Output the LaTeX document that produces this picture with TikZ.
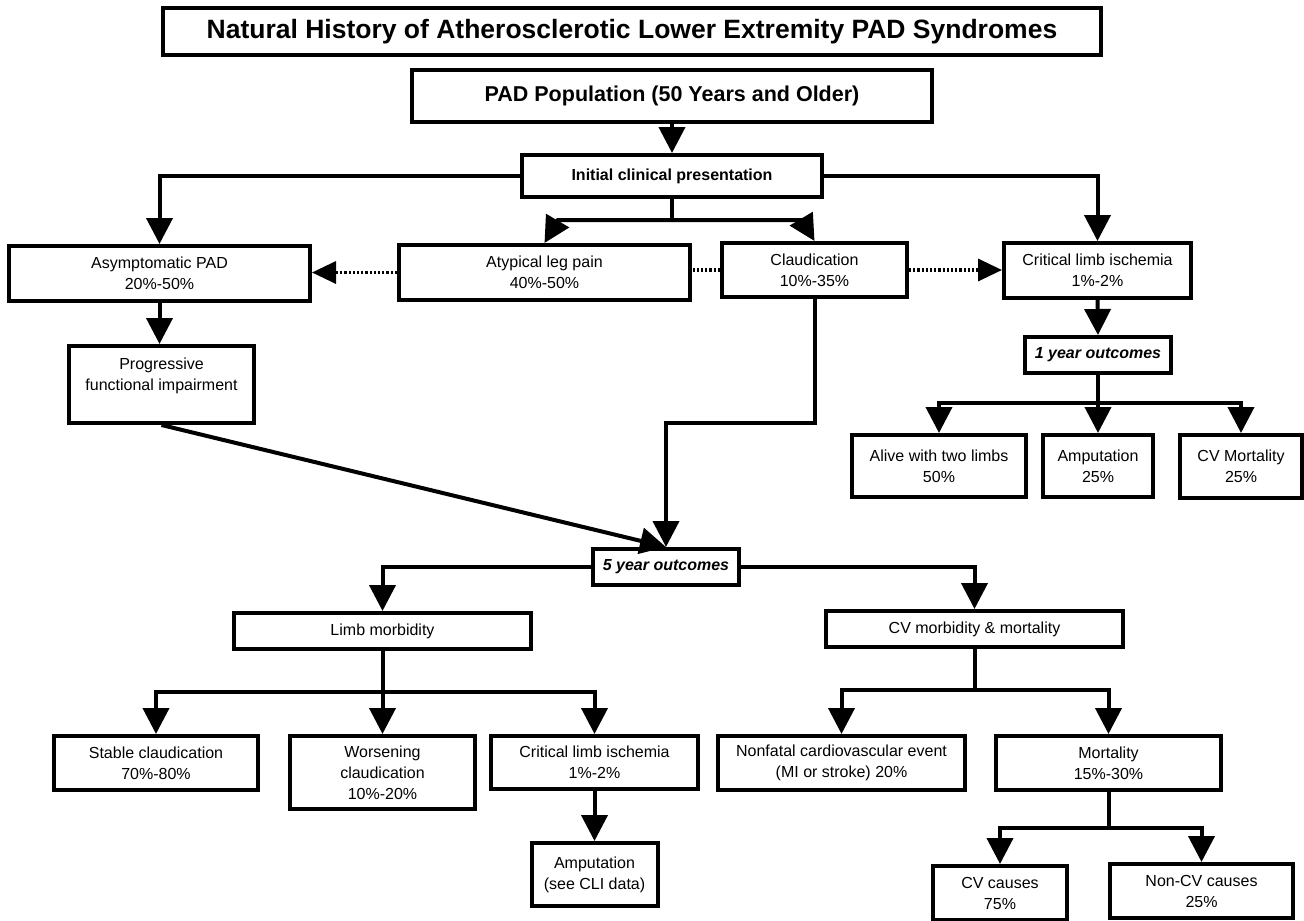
\documentclass[tikz,border=0pt]{standalone}
\usepackage{fontspec}
\setmainfont{Liberation Sans}
\usetikzlibrary{arrows.meta}
\begin{document}
\begin{tikzpicture}[x=1pt,y=-1pt,
  box/.style={draw, rectangle, line width=4pt, inner sep=2pt, align=center, font=\fontsize{16}{21}\selectfont},
  conn/.style={line width=4pt},
  arr/.style={conn, -{Triangle[length=26pt,width=26pt]}},
  dotline/.style={line width=3.5pt, dash pattern=on 2.2pt off 2pt},
  darr/.style={dotline, -{Triangle[length=24pt,width=22pt]}},
  bigbold/.style={font=\fontsize{26.5}{30}\selectfont\bfseries},
  midbold/.style={font=\fontsize{21.5}{26}\selectfont\bfseries},
  smallbold/.style={font=\fontsize{16}{20}\selectfont\bfseries},
  outcome/.style={font=\fontsize{16}{20}\selectfont\bfseries\itshape}]
\useasboundingbox[fill=white] (0,0) rectangle (1304,921);

% boxes
\node[box, bigbold, minimum width=938pt, minimum height=47pt] (title) at (632,31.5) {Natural History of Atherosclerotic Lower Extremity PAD Syndromes};
\node[box, midbold, minimum width=520pt, minimum height=52pt] (pop) at (672,96) {PAD Population (50 Years and Older)};
\node[box, smallbold, minimum width=300pt, minimum height=42pt] (init) at (672,176) {Initial clinical presentation};

\node[box, minimum width=301pt, minimum height=55pt] (asym) at (159.5,273.5) {Asymptomatic PAD\\20\%-50\%};
\node[box, minimum width=291pt, minimum height=55pt] (atyp) at (544.5,272.5) {Atypical leg pain\\40\%-50\%};
\node[box, minimum width=185pt, minimum height=54pt] (claud) at (814.5,270) {Claudication\\10\%-35\%};
\node[box, minimum width=187pt, minimum height=55pt] (cli1) at (1097.5,270.5) {Critical limb ischemia\\1\%-2\%};

\node[box, minimum width=185pt, minimum height=77pt] (prog) at (161.5,384.5) {Progressive\\functional impairment\\\mbox{}};

\node[box, outcome, minimum width=146pt, minimum height=36pt] (y1) at (1098,355) {1 year outcomes};
\node[box, minimum width=174pt, minimum height=62pt] (alive) at (939,466) {Alive with two limbs\\50\%};
\node[box, minimum width=110pt, minimum height=62pt] (amp1) at (1098,466) {Amputation\\25\%};
\node[box, minimum width=122pt, minimum height=63pt] (cvm) at (1241,466.5) {CV Mortality\\25\%};

\node[box, outcome, minimum width=146pt, minimum height=36pt] (y5) at (666,567) {5 year outcomes};
\node[box, minimum width=297pt, minimum height=36pt] (limb) at (382.5,631) {Limb morbidity};
\node[box, minimum width=297pt, minimum height=36pt] (cvmm) at (974.5,629) {CV morbidity \& mortality};

\node[box, minimum width=204pt, minimum height=54pt] (stable) at (156,763) {Stable claudication\\70\%-80\%};
\node[box, minimum width=185pt, minimum height=73pt] (worse) at (382.5,772.5) {Worsening\\claudication\\10\%-20\%};
\node[box, minimum width=207pt, minimum height=53pt] (cli2) at (594.5,762.5) {Critical limb ischemia\\1\%-2\%};
\node[box, minimum width=126pt, minimum height=63pt] (amp2) at (594.5,874.5) {Amputation\\(see CLI data)};

\node[box, minimum width=247pt, minimum height=54pt] (nonfatal) at (841.5,763) {Nonfatal cardiovascular event\\(MI or stroke) 20\%};
\node[box, minimum width=225pt, minimum height=54pt] (mort) at (1108.5,763) {Mortality\\15\%-30\%};
\node[box, minimum width=134pt, minimum height=54pt] (cvc) at (1000,893) {CV causes\\75\%};
\node[box, minimum width=183pt, minimum height=54pt] (noncv) at (1201.5,891) {Non-CV causes\\25\%};

% junction coordinates
\coordinate (ij) at (672,220);
\coordinate (il) at (558,220);
\coordinate (ir) at (802,220);
\coordinate (cj) at (814.5,423);
\coordinate (y1j) at (1098,403);
\coordinate (lj) at (382.5,692);
\coordinate (cvj) at (974.5,690);
\coordinate (mj) at (1108.5,828);

% connectors
\draw[arr] (pop.south) -- (init.north);
\draw[arr] (init.west) -| (asym.north);
\draw[arr] (init.east) -| (cli1.north);
\draw[conn] (init.south) -- (ij);
\draw[arr] (ij) -- (il) -- (atyp.north);
\draw[arr] (ij) -- (ir) -- (claud.north);

\draw[darr] (atyp.west) -- (asym.east |- atyp.west);
\draw[dotline] (claud.west) -- (atyp.east |- claud.west);
\draw[darr] (claud.east) -- (cli1.west |- claud.east);

\draw[arr] (asym.south) -- (asym.south |- prog.north);
\draw[arr] (cli1.south) -- (y1.north);
\draw[conn] (y1.south) -- (y1j);
\draw[arr] (y1j) -| (alive.north);
\draw[arr] (y1j) -- (amp1.north);
\draw[arr] (y1j) -| (cvm.north);

\draw[arr] (claud.south) -- (cj) -| (y5.north);
\draw[arr] (prog.south) -- (y5.north);

\draw[arr] (y5.west) -| (limb.north);
\draw[arr] (y5.east) -| (cvmm.north);

\draw[conn] (limb.south) -- (lj);
\draw[arr] (lj) -| (stable.north);
\draw[arr] (lj) -- (worse.north);
\draw[arr] (lj) -| (cli2.north);
\draw[arr] (cli2.south) -- (amp2.north);

\draw[conn] (cvmm.south) -- (cvj);
\draw[arr] (cvj) -| (nonfatal.north);
\draw[arr] (cvj) -| (mort.north);

\draw[conn] (mort.south) -- (mj);
\draw[arr] (mj) -| (cvc.north);
\draw[arr] (mj) -| (noncv.north);
\end{tikzpicture}
\end{document}
